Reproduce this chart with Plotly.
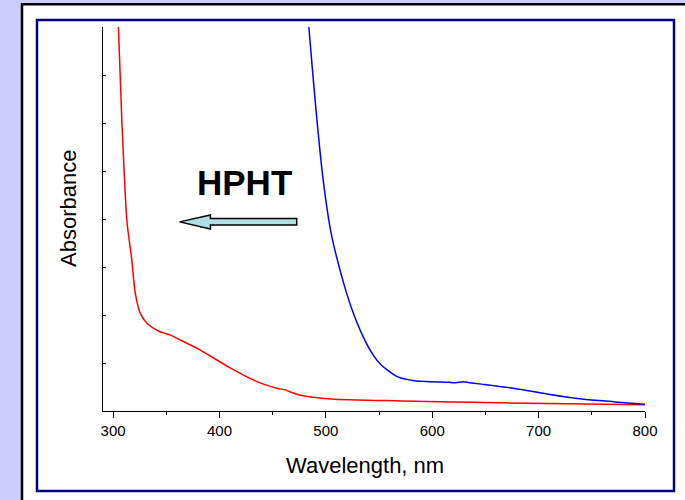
import plotly.graph_objects as go

# absorbance spectra (arbitrary units, axis 0..8)
red_wl = [304, 305, 308.2, 312.9, 316.0, 317.6, 320.8, 325.5, 331.8, 344.3, 353.8, 363.2,
          382, 410, 438.7, 455, 462, 466, 476, 505, 571, 665, 800]
red_abs = [8.3, 7.99, 6.06, 3.98, 3.42, 3.15, 2.46, 2.04, 1.83, 1.65, 1.58, 1.48,
           1.27, 0.90, 0.58, 0.47, 0.44, 0.40, 0.33, 0.25, 0.21, 0.17, 0.13]

blue_wl = [483, 484, 490, 497, 505, 515, 524, 535, 545, 552, 560, 567.6, 583.3,
           614.8, 622, 629, 635, 646.2, 677.4, 709.2, 740.6, 771.7, 800]
blue_abs = [8.3, 8.0, 6.45, 4.9, 3.7, 2.8, 2.15, 1.55, 1.15, 0.96, 0.82, 0.71, 0.63,
            0.60, 0.59, 0.61, 0.59, 0.56, 0.47, 0.35, 0.25, 0.19, 0.14]

font = "Arial, Liberation Sans, sans-serif"

# plot area in pixels: x 103..645, y 27..411
L, R, T, B = 103, 645, 27, 411
W, H = R - L, B - T


def px(x):
    return (x - L) / W


def py(y):
    return (B - y) / H


fig = go.Figure()
fig.add_trace(go.Scatter(x=red_wl, y=red_abs, mode="lines",
                         line=dict(color="#ff0000", width=1.5, shape="spline", smoothing=0.7)))
fig.add_trace(go.Scatter(x=blue_wl, y=blue_abs, mode="lines",
                         line=dict(color="#0000ff", width=1.5, shape="spline", smoothing=0.7)))

shapes = [
    # white sheet
    dict(type="rect", xref="paper", yref="paper", layer="below",
         x0=px(22), x1=px(700), y0=py(4.3), y1=py(520),
         fillcolor="white", line=dict(width=0)),
    # black left and top edges of the sheet
    dict(type="line", xref="paper", yref="paper", layer="below",
         x0=px(22), x1=px(22), y0=py(3), y1=py(520), line=dict(color="black", width=2.5)),
    dict(type="line", xref="paper", yref="paper", layer="below",
         x0=px(21), x1=px(700), y0=py(4.3), y1=py(4.3), line=dict(color="black", width=2.5)),
    # navy frame
    dict(type="rect", xref="paper", yref="paper", layer="below",
         x0=px(37), x1=px(674), y0=py(20), y1=py(491),
         fillcolor="rgba(0,0,0,0)", line=dict(color="#000080", width=2.5)),
    # HPHT arrow
    dict(type="path", xref="x", yref="y", layer="above",
         path="M 362.5 3.94 L 391.5 4.085 L 391.5 4.01 L 472.6 4.01 "
              "L 472.6 3.875 L 391.5 3.875 L 391.5 3.79 Z",
         fillcolor="#b0dfe3", line=dict(color="black", width=1.5)),
]

annotations = [
    dict(text="<b>HPHT</b>", x=423.6, y=4.77, xref="x", yref="y", showarrow=False,
         xanchor="center", yanchor="middle",
         font=dict(family=font, size=35, color="black")),
    dict(text="Wavelength, nm", x=px(365), y=py(465), xref="paper", yref="paper",
         xanchor="center", yanchor="middle",
         showarrow=False, font=dict(family=font, size=22, color="black")),
    dict(text="Absorbance", x=px(68), y=py(209), xref="paper", yref="paper",
         xanchor="center", yanchor="middle",
         showarrow=False, textangle=-90, font=dict(family=font, size=22, color="black")),
]

fig.update_layout(
    width=685, height=500,
    margin=dict(l=L, r=685 - R, t=T, b=500 - B),
    paper_bgcolor="#ccccff",
    plot_bgcolor="rgba(0,0,0,0)",
    showlegend=False,
    shapes=shapes,
    annotations=annotations,
    font=dict(family=font, color="black"),
)
fig.update_xaxes(range=[290.5, 800], dtick=100, tick0=300, showgrid=False, zeroline=False,
                 showline=True, linecolor="black", linewidth=1.3,
                 ticks="outside", ticklen=6, tickwidth=1.2, tickcolor="black",
                 tickfont=dict(family=font, size=15, color="black"),
                 minor=dict(dtick=50, tick0=300, ticks="outside", ticklen=3,
                            tickcolor="black", tickwidth=1))
fig.update_yaxes(range=[0, 8], dtick=1, showgrid=False, zeroline=False,
                 showline=True, linecolor="black", linewidth=1.3,
                 ticks="inside", ticklen=3, tickcolor="black", tickwidth=1,
                 showticklabels=False)

# drop the default page margin so the figure sits at the window corner
fig.write_html("out.html", config={"displayModeBar": False},
               post_script="document.body.style.margin='0';")
